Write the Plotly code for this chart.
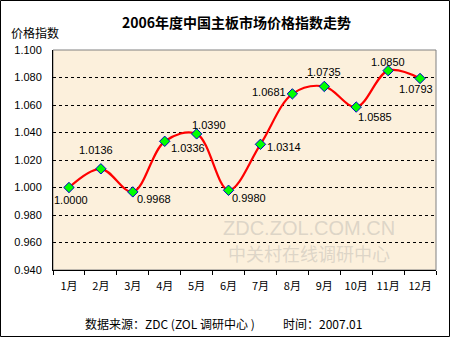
import plotly.graph_objects as go

months = ["1月", "2月", "3月", "4月", "5月", "6月", "7月", "8月", "9月", "10月", "11月", "12月"]
values = [1.0000, 1.0136, 0.9968, 1.0336, 1.0390, 0.9980, 1.0314, 1.0681, 1.0735, 1.0585, 1.0850, 1.0793]
labels = ["1.0000", "1.0136", "0.9968", "1.0336", "1.0390", "0.9980", "1.0314", "1.0681", "1.0735", "1.0585", "1.0850", "1.0793"]
label_shift = [(2, -12), (-5, 19), (21, -7), (23, -7), (12, 9), (20, -8),
               (24, -3), (-23, 2), (0, 14), (19, -10), (0, 9), (-4, -11)]
y_ticks = [0.94, 0.96, 0.98, 1.00, 1.02, 1.04, 1.06, 1.08, 1.10]

FONT = "Arial, Liberation Sans, Noto Sans CJK SC, sans-serif"
CJK = "Noto Sans CJK SC, sans-serif"

fig = go.Figure()
fig.add_trace(go.Scatter(
    x=months, y=values, mode="lines+markers",
    line=dict(color="#FF0000", width=2.2, shape="spline", smoothing=1.0),
    marker=dict(symbol="diamond", size=8, color="#00FF00",
                line=dict(color="#0000CC", width=1)),
    hoverinfo="skip", showlegend=False,
))

annotations = []
for m, v, t, (dx, dy) in zip(months, values, labels, label_shift):
    annotations.append(dict(x=m, y=v, xref="x", yref="y", text=t, showarrow=False,
                            xanchor="center", yanchor="middle",
                            xshift=dx, yshift=dy,
                            font=dict(family=FONT, size=11, color="black")))

def px_x(p):
    return (p - 53) / 383

def px_y(p):
    return (270 - p) / 220

# watermark
annotations.append(dict(x=px_x(309), y=px_y(228), xref="paper", yref="paper",
                        xanchor="center", yanchor="middle",
                        text="ZDC.ZOL.COM.CN", showarrow=False,
                        font=dict(family=FONT, size=20, color="rgba(200,195,185,0.6)")))
annotations.append(dict(x=px_x(309), y=px_y(253), xref="paper", yref="paper",
                        xanchor="center", yanchor="middle",
                        text="中关村在线调研中心", showarrow=False,
                        font=dict(family=CJK, size=18, color="rgba(200,195,185,0.6)")))
# title
annotations.append(dict(x=px_x(236), y=px_y(22), xref="paper", yref="paper",
                        xanchor="center", yanchor="middle",
                        text="<b>2006年度中国主板市场价格指数走势</b>", showarrow=False,
                        font=dict(family=CJK, size=14, color="black")))
# y title
annotations.append(dict(x=px_x(9), y=px_y(32), xref="paper", yref="paper",
                        xanchor="left", yanchor="middle", text="价格指数", showarrow=False,
                        font=dict(family=CJK, size=12, color="black")))
# footer
annotations.append(dict(x=px_x(83), y=px_y(323), xref="paper", yref="paper",
                        xanchor="left", yanchor="middle",
                        text="数据来源：ZDC (ZOL 调研中心 )", showarrow=False,
                        font=dict(family=CJK, size=12, color="black")))
annotations.append(dict(x=px_x(281), y=px_y(323), xref="paper", yref="paper",
                        xanchor="left", yanchor="middle",
                        text="时间：2007.01", showarrow=False,
                        font=dict(family=CJK, size=12, color="black")))

shapes = [
    dict(type="rect", xref="paper", yref="paper",
         x0=px_x(0.5), x1=px_x(449.5), y0=px_y(336.5), y1=px_y(0.5),
         line=dict(color="black", width=1), layer="below"),
    dict(type="rect", xref="paper", yref="paper", x0=0, x1=1, y0=0, y1=1,
         line=dict(color="#808080", width=1), layer="below"),
]

fig.update_layout(
    width=450, height=337,
    margin=dict(l=53, r=14, t=50, b=67),
    paper_bgcolor="white", plot_bgcolor="#FCF0DC",
    font=dict(family=FONT, size=11, color="black"),
    annotations=annotations, shapes=shapes,
    xaxis=dict(type="category", range=[-0.5, 11.5], showline=True, linecolor="black", linewidth=1,
               ticks="outside", tickson="boundaries", ticklen=4, tickcolor="black",
               showgrid=False, ticklabelstandoff=6, tickangle=0,
               tickfont=dict(family=CJK, size=11), fixedrange=True),
    yaxis=dict(range=[0.94, 1.10], tickvals=y_ticks, tickformat=".3f",
               showline=True, linecolor="black", linewidth=1,
               showgrid=True, gridcolor="black", gridwidth=1, griddash="3px,3px",
               zeroline=False, ticks="", ticklabelstandoff=8,
               tickfont=dict(family=FONT, size=11), fixedrange=True),
)

fig.write_html("out.html", config={"displayModeBar": False})
